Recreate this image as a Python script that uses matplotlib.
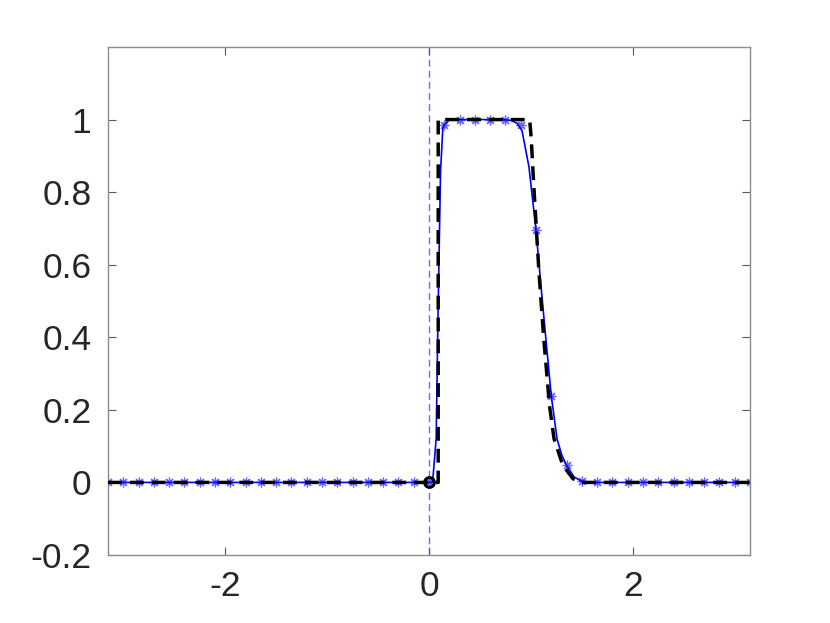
import numpy as np
import matplotlib
matplotlib.use("Agg")
import matplotlib.pyplot as plt

plt.rcParams['font.family'] = ['Liberation Sans', 'DejaVu Sans']
plt.rcParams['axes.unicode_minus'] = False

# exact solution (black dashed)
exact_x = [-np.pi, 0.09, 0.09, 0.985, 1.0, 1.027, 1.076, 1.122, 1.18, 1.224, 1.31, 1.41, 1.48, np.pi]
exact_y = [0, 0, 1, 1, 0.95, 0.81, 0.58, 0.40, 0.21, 0.12, 0.047, 0.01, 0, 0]

# numerical solution (blue line)
num_x = [-np.pi, 0.0, 0.035, 0.07, 0.09, 0.113, 0.135, 0.15, 0.2, 0.7, 0.8, 0.86, 0.91, 0.978,
         1.047, 1.093, 1.149, 1.197, 1.253, 1.30, 1.346, 1.42, 1.496, 1.6, np.pi]
num_y = [0, 0, 0.0, 0.12, 0.49, 0.857, 0.975, 0.986, 1.0, 1.0, 0.998, 0.99, 0.97, 0.87,
         0.696, 0.55, 0.38, 0.238, 0.12, 0.075, 0.047, 0.015, 0.003, 0, 0]

# markers on the coarse grid x = -pi + k*pi/21
marker_k = list(range(43))
marker_y = [0] * 22 + [0.986, 1, 1, 1, 1, 0.984, 0.696, 0.238, 0.047, 0.003] + [0] * 11

yticks = [-0.2, 0, 0.2, 0.4, 0.6, 0.8, 1]
ytick_labels = ['-0.2', '0', '0.2', '0.4', '0.6', '0.8', '1']
xticks = [-2, 0, 2]
xtick_labels = ['-2', '0', '2']

fig = plt.figure(figsize=(8.3, 6.23), dpi=100)
ax = fig.add_axes([108/830, 1-555/623, (750-108)/830, (555-47)/623])

mx = [-np.pi + k*np.pi/21 for k in marker_k]
ax.axvline(0, color=(0.42, 0.42, 1.0), lw=1.0, ls=(0, (5, 3)), zorder=1)
ax.plot(mx, marker_y, ls='none', marker=(8, 2, 0), ms=7, mew=0.9,
        color=(0.4, 0.4, 1.0), zorder=2)
ax.plot(num_x, num_y, color=(0, 0, 1), lw=1.2, zorder=3)
ax.plot(exact_x, exact_y, color='k', lw=2.5, ls=(0, (4.0, 2.3)), zorder=4)
ax.plot([0], [0], ls='none', marker='o', ms=7, mfc='none', mec='k', mew=2.2, zorder=5)

ax.set_xlim(-np.pi, np.pi)
ax.set_ylim(-0.2, 1.2)
ax.set_xticks(xticks)
ax.set_xticklabels(xtick_labels)
ax.set_yticks(yticks)
ax.set_yticklabels(ytick_labels)

for s in ax.spines.values():
    s.set_color((0.55, 0.55, 0.55))
    s.set_linewidth(1.0)
ax.tick_params(direction='in', length=6, width=0.8, color=(0.35, 0.35, 0.35),
               labelcolor=(0.15, 0.15, 0.15), labelsize=25.5, top=True, right=True)
ax.tick_params(axis='x', pad=11)
ax.tick_params(axis='y', pad=12)

fig.savefig('out.png', dpi=100)
